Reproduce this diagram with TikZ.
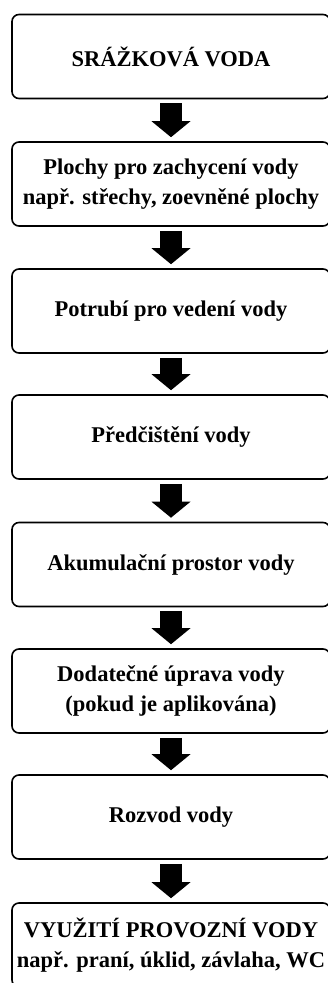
\documentclass[tikz,border=0pt]{standalone}
\usepackage{fontspec}
\setmainfont{Liberation Serif}
\usetikzlibrary{arrows.meta}

\begin{document}
\begin{tikzpicture}[x=1pt,y=-1pt,
    box/.style={draw, line width=1.6pt, rounded corners=7pt, minimum width=318pt, minimum height=84pt,
        align=center, inner sep=0pt, font=\fontsize{22.5}{30}\selectfont\bfseries},
    flow/.style={line width=22pt, -{Triangle[width=39pt,length=16pt,line width=0pt]},
        shorten <=4pt, shorten >=4pt}]

    \useasboundingbox (0,0) rectangle (328,983);

    \node[box] (srazky) at (171,56.5) {SRÁŽKOVÁ VODA};

    \node[box] (plochy) at (171,184) {Plochy pro zachycení vody\\např. střechy, zoevněné plochy};

    \node[box] (potrubi) at (171,311) {Potrubí pro vedení vody};

    \node[box] (predcist) at (171,437) {Předčištění vody};

    \node[box] (akum) at (171,564.5) {Akumulační prostor vody};

    \node[box] (uprava) at (171,691) {Dodatečné úprava vody\\(pokud je aplikována)};

    \node[box] (rozvod) at (171,817) {Rozvod vody};

    \node[box] (vyuziti) at (171,945) {VYUŽITÍ PROVOZNÍ VODY\\např. praní, úklid, závlaha, WC};



    \draw[flow] (srazky) to (plochy);
    \draw[flow] (plochy) to (potrubi);
    \draw[flow] (potrubi) to (predcist);
    \draw[flow] (predcist) to (akum);
    \draw[flow] (akum) to (uprava);
    \draw[flow] (uprava) to (rozvod);
    \draw[flow] (rozvod) to (vyuziti);

\end{tikzpicture}
\end{document}
